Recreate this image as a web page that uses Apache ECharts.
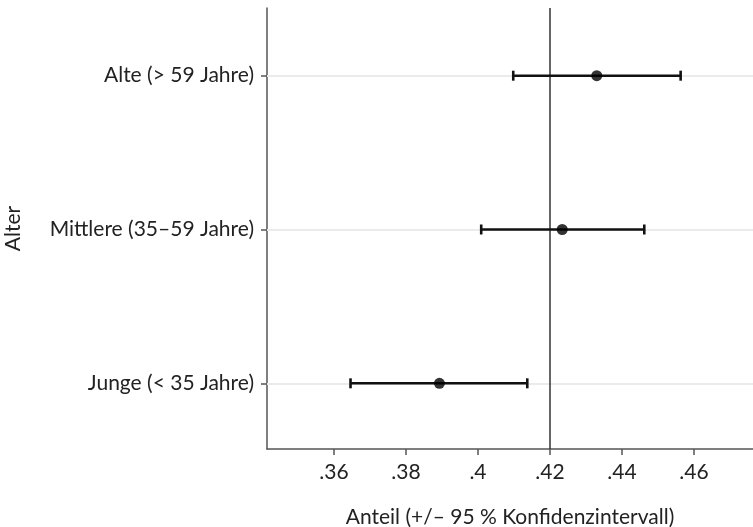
<!DOCTYPE html>
<html>
<head>
<meta charset="utf-8">
<script src="https://cdn.jsdelivr.net/npm/echarts@6/dist/echarts.min.js"></script>
<style>
  html, body { margin: 0; padding: 0; background: #fff; }
  #main { width: 753px; height: 527px; }
</style>
</head>
<body>
<div id="main"></div>
<script>
// Altersgruppen (unten nach oben) und Schaetzwerte
var categories = ['Junge (< 35 Jahre)', 'Mittlere (35–59 Jahre)', 'Alte (> 59 Jahre)'];
var anteil = [0.3893, 0.4234, 0.4330];
var ciLow = [0.3646, 0.4009, 0.4098];
var ciHigh = [0.4137, 0.4462, 0.4563];
var xTicks = [0.36, 0.38, 0.40, 0.42, 0.44, 0.46];
var refLine = 0.4189;

var myChart = echarts.init(document.getElementById('main'));
var font = 'Lato';

var ciData = categories.map(function (c, i) { return [ciLow[i], ciHigh[i], i + 1]; });
var pointData = categories.map(function (c, i) { return [anteil[i], i + 1]; });

option = {
    animation: false,
    grid: { left: 267, right: 0, top: 8, bottom: 78, outerBoundsMode: 'none', containLabel: false },
    xAxis: {
        type: 'value',
        min: 0.3414,
        max: 0.4764,
        name: 'Anteil (+/– 95 % Konfidenzintervall)',
        nameLocation: 'middle',
        nameGap: 58,
        nameTextStyle: { fontFamily: font, fontSize: 21, color: '#222' },
        axisLine: { show: true, lineStyle: { color: '#555', width: 1.5 } },
        axisTick: { show: true, length: 6, customValues: xTicks, lineStyle: { color: '#555', width: 1.5 } },
        axisLabel: {
            customValues: xTicks,
            margin: 13,
            fontFamily: font, fontSize: 21, color: '#222',
            formatter: function (v) { return (+v.toFixed(2)).toString().replace(/^0/, ''); }
        },
        splitLine: { show: false }
    },
    yAxis: {
        type: 'value',
        min: 0.573,
        max: 3.44,
        name: 'Alter',
        nameLocation: 'middle',
        nameGap: 243,
        nameRotate: 90,
        nameTextStyle: { fontFamily: font, fontSize: 21, color: '#222' },
        axisLine: { show: true, lineStyle: { color: '#555', width: 1.5 } },
        axisTick: { show: true, length: 6, customValues: [1, 2, 3], lineStyle: { color: '#555', width: 1.5 } },
        axisLabel: {
            customValues: [1, 2, 3],
            margin: 13,
            fontFamily: font, fontSize: 21, color: '#222',
            formatter: function (v) { return categories[Math.round(v) - 1] || ''; }
        },
        splitLine: { show: false }
    },
    series: [
        {
            // Gitterlinien und Referenzlinie
            type: 'line',
            data: [],
            silent: true,
            markLine: {
                symbol: 'none',
                silent: true,
                label: { show: false },
                data: [
                    { yAxis: 1, lineStyle: { color: '#ebebeb', width: 2, type: 'solid' } },
                    { yAxis: 2, lineStyle: { color: '#ebebeb', width: 2, type: 'solid' } },
                    { yAxis: 3, lineStyle: { color: '#ebebeb', width: 2, type: 'solid' } },
                    { xAxis: refLine, lineStyle: { color: '#333', width: 1.5, type: 'solid' } }
                ]
            }
        },
        {
            type: 'custom',
            data: ciData,
            z: 5,
            renderItem: function (params, api) {
                var a = api.coord([api.value(0), api.value(2)]);
                var b = api.coord([api.value(1), api.value(2)]);
                var h = 5;
                var st = { stroke: '#111', lineWidth: 2.6 };
                return {
                    type: 'group',
                    children: [
                        { type: 'line', shape: { x1: a[0], y1: a[1], x2: b[0], y2: b[1] }, style: st },
                        { type: 'line', shape: { x1: a[0], y1: a[1] - h, x2: a[0], y2: a[1] + h }, style: st },
                        { type: 'line', shape: { x1: b[0], y1: b[1] - h, x2: b[0], y2: b[1] + h }, style: st }
                    ]
                };
            }
        },
        {
            type: 'scatter',
            data: pointData,
            z: 6,
            symbol: 'circle',
            symbolSize: 11,
            itemStyle: { color: '#000' }
        }
    ]
};

myChart.setOption(option, true);
</script>
</body>
</html>
